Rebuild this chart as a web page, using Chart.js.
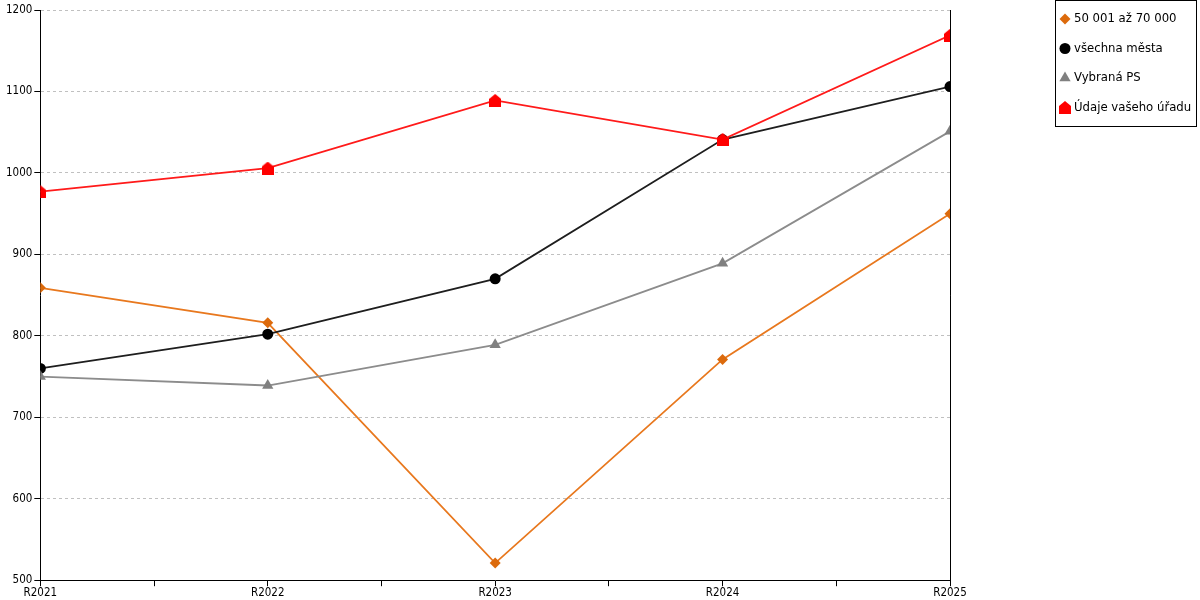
<!DOCTYPE html>
<html>
<head>
<meta charset="utf-8">
<script src="https://cdn.jsdelivr.net/npm/chart.js@4.4.1/dist/chart.umd.min.js"></script>
<style>
  html, body { margin: 0; padding: 0; background: #fff; }
  #wrap { width: 1200px; height: 600px; }
</style>
</head>
<body>
<div id="wrap"><canvas id="chart" width="1200" height="600"></canvas></div>
<script>
// Chart data
const categories = ['R2021', 'R2022', 'R2023', 'R2024', 'R2025'];
const seriesNames = ['50 001 až 70 000', 'všechna města', 'Vybraná PS', 'Údaje vašeho úřadu'];
const groupValues = [859, 816, 521, 771, 950];
const allCitiesValues = [760, 802, 870, 1041, 1106];
const selectedValues = [750, 739, 789, 889, 1051];
const officeValues = [977, 1006, 1089, 1041, 1169];
const yTicks = { min: 500, max: 1200, step: 100 };

// House shaped marker for the office series
function makeHouse(color) {
  const c = document.createElement('canvas');
  c.width = 12;
  c.height = 13;
  const g = c.getContext('2d');
  g.fillStyle = color;
  g.beginPath();
  g.moveTo(6, 0);
  g.lineTo(12, 5);
  g.lineTo(12, 13);
  g.lineTo(0, 13);
  g.lineTo(0, 5);
  g.closePath();
  g.fill();
  return c;
}
const houseMarker = makeHouse('#ff0000');

function toPoints(values) {
  return values.map((v, i) => ({ x: i, y: v }));
}

const FONT_FAMILY = '"DejaVu Sans Condensed", "DejaVu Sans", sans-serif';
const FONT = { family: FONT_FAMILY, size: 11.5 };

// Right edge line of plot area
const rightBorder = {
  id: 'rightBorder',
  beforeDatasetsDraw(chart) {
    const { ctx, chartArea } = chart;
    ctx.save();
    ctx.strokeStyle = '#000';
    ctx.lineWidth = 1;
    ctx.beginPath();
    ctx.moveTo(Math.round(chartArea.right) + 0.5, chartArea.top);
    ctx.lineTo(Math.round(chartArea.right) + 0.5, chartArea.bottom);
    ctx.stroke();
    ctx.restore();
  }
};

// Boxed legend in the top right corner
const boxLegend = {
  id: 'boxLegend',
  afterDraw(chart) {
    const { ctx } = chart;
    const left = 1055, top = 0, width = 142, height = 127;
    ctx.save();
    ctx.fillStyle = '#fff';
    ctx.fillRect(left, top, width, height);
    ctx.strokeStyle = '#000';
    ctx.lineWidth = 1;
    ctx.strokeRect(left + 0.5, top + 0.5, width - 1, height - 1);
    ctx.font = '13px ' + FONT_FAMILY;
    ctx.textBaseline = 'middle';
    chart.data.datasets.forEach((ds, i) => {
      const y = 19 + i * 29.5;
      ctx.fillStyle = ds.pointBackgroundColor;
      ctx.strokeStyle = ds.pointBackgroundColor;
      Chart.helpers.drawPoint(ctx, {
        pointStyle: ds.pointStyle,
        radius: ds.pointRadius,
        rotation: 0,
        borderWidth: 0
      }, 1065, y);
      ctx.fillStyle = '#000';
      ctx.fillText(ds.label, 1074, y);
    });
    ctx.restore();
  }
};

new Chart(document.getElementById('chart'), {
  type: 'line',
  data: {
    datasets: [{
      label: seriesNames[0],
      data: toPoints(groupValues),
      order: 4,
      borderColor: '#e8781e',
      borderWidth: 1.8,
      pointStyle: 'rectRot',
      pointRadius: 5.5,
      pointBackgroundColor: '#dc6a0c',
      pointBorderColor: '#dc6a0c',
      pointBorderWidth: 0
    }, {
      label: seriesNames[1],
      data: toPoints(allCitiesValues),
      order: 3,
      borderColor: '#1e1e1e',
      borderWidth: 1.8,
      pointStyle: 'circle',
      pointRadius: 5.5,
      pointBackgroundColor: '#000000',
      pointBorderColor: '#000000',
      pointBorderWidth: 0
    }, {
      label: seriesNames[2],
      data: toPoints(selectedValues),
      order: 2,
      borderColor: '#8c8c8c',
      borderWidth: 1.8,
      pointStyle: 'triangle',
      pointRadius: 6.5,
      pointBackgroundColor: '#808080',
      pointBorderColor: '#808080',
      pointBorderWidth: 0
    }, {
      label: seriesNames[3],
      data: toPoints(officeValues),
      order: 1,
      borderColor: '#ff1a1a',
      borderWidth: 1.8,
      pointStyle: houseMarker,
      pointRadius: 6,
      pointBackgroundColor: '#ff0000',
      pointBorderColor: '#ff0000',
      pointBorderWidth: 0
    }]
  },
  options: {
    responsive: false,
    animation: false,
    events: [],
    layout: { padding: { left: 4, right: 250, top: 10, bottom: 0 } },
    plugins: {
      legend: { display: false },
      tooltip: { enabled: false }
    },
    scales: {
      x: {
        type: 'linear',
        min: 0,
        max: categories.length - 1,
        grid: {
          drawOnChartArea: false,
          drawTicks: true,
          tickLength: 6,
          tickColor: '#000'
        },
        border: { color: '#000', width: 1 },
        ticks: {
          stepSize: 0.5,
          autoSkip: false,
          maxRotation: 0,
          padding: 0,
          color: '#000',
          font: FONT,
          callback: v => Number.isInteger(v) ? categories[v] : ''
        }
      },
      y: {
        min: yTicks.min,
        max: yTicks.max,
        grid: {
          color: '#c0c0c0',
          tickColor: '#000',
          tickLength: 6,
          tickBorderDash: []
        },
        border: { color: '#000', width: 1, dash: [3, 3] },
        ticks: {
          stepSize: yTicks.step,
          padding: 2,
          color: '#000',
          font: FONT,
          callback: v => String(v)
        }
      }
    }
  },
  plugins: [rightBorder, boxLegend]
});
</script>
</body>
</html>
